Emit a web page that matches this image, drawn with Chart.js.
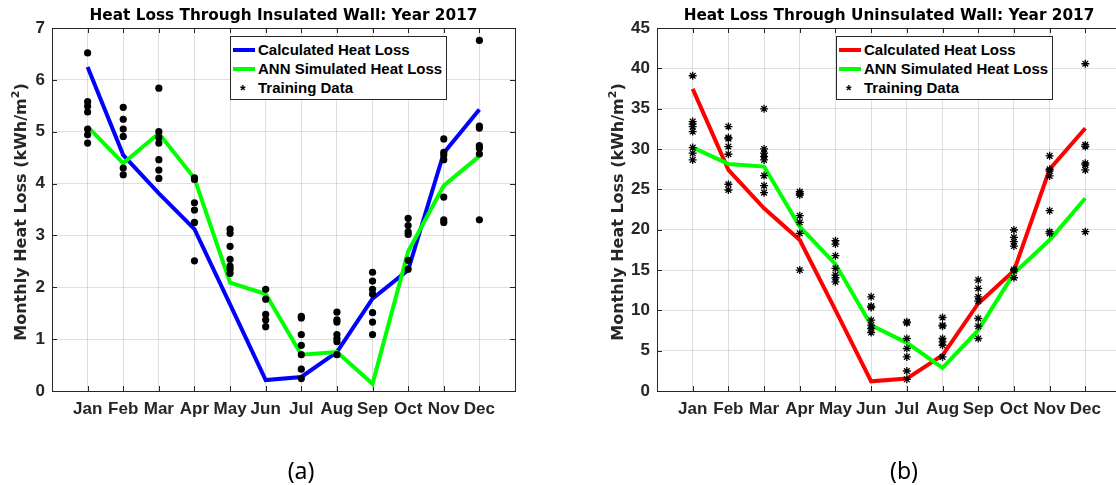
<!DOCTYPE html>
<html>
<head>
<meta charset="utf-8">
<script src="https://cdn.jsdelivr.net/npm/chart.js@4"></script>
<style>
  body { margin: 0; width: 1116px; height: 485px; overflow: hidden; background: #fff; position: relative; font-family: "Liberation Sans", Arial, sans-serif; }
  canvas { position: absolute; top: 0; }
  .title { position: absolute; top: 5px; line-height: 20px; text-align: center; font-family: "DejaVu Sans", sans-serif; font-weight: bold; font-size: 15.3px; color: #000; white-space: nowrap; }
  .ylabel { position: absolute; top: 202px; width: 320px; height: 20px; line-height: 20px; text-align: center; font-family: "DejaVu Sans", sans-serif; font-weight: bold; font-size: 16px; color: #262626; white-space: nowrap; transform: rotate(-90deg); }
  .ylabel sup { font-size: 11px; line-height: 0; position: relative; top: -1px; }
  .legend { position: absolute; width: 215px; height: 62px; border: 1px solid #262626; background: #fff; }
  .row { position: absolute; left: 0; height: 18px; line-height: 18px; font-weight: bold; font-size: 15px; color: #000; white-space: nowrap; }
  .swatch { position: absolute; left: 2px; top: 7px; width: 22px; height: 4px; }
  .star { position: absolute; left: 9px; top: 2px; font-size: 14px; }
  .row .txt { position: absolute; left: 27px; }
  .sub { position: absolute; top: 454px; font-family: "Noto Sans", "Open Sans", sans-serif; font-size: 23px; color: #000; text-align: center; width: 60px; }
</style>
</head>
<body>
<canvas id="insulated" width="545" height="485" style="left:0px"></canvas>
<canvas id="uninsulated" width="540" height="485" style="left:600px"></canvas>

<div class="title" style="left:52px; width:463px">Heat Loss Through Insulated Wall: Year 2017</div>
<div class="title" style="left:657px; width:464px">Heat Loss Through Uninsulated Wall: Year 2017</div>

<div class="ylabel" style="left:-139px">Monthly Heat Loss (kWh/m<sup>2</sup>)</div>
<div class="ylabel" style="left:458px">Monthly Heat Loss (kWh/m<sup>2</sup>)</div>

<div class="legend" style="left:230px; top:36px">
  <div class="row" style="top:4px"><span class="swatch" style="background:#0000ff"></span><span class="txt">Calculated Heat Loss</span></div>
  <div class="row" style="top:23px"><span class="swatch" style="background:#00ff00"></span><span class="txt">ANN Simulated Heat Loss</span></div>
  <div class="row" style="top:42px"><span class="star">*</span><span class="txt">Training Data</span></div>
</div>
<div class="legend" style="left:836px; top:36px">
  <div class="row" style="top:4px"><span class="swatch" style="background:#ff0000"></span><span class="txt">Calculated Heat Loss</span></div>
  <div class="row" style="top:23px"><span class="swatch" style="background:#00ff00"></span><span class="txt">ANN Simulated Heat Loss</span></div>
  <div class="row" style="top:42px"><span class="star">*</span><span class="txt">Training Data</span></div>
</div>

<div class="sub" style="left:271px">(a)</div>
<div class="sub" style="left:874px">(b)</div>

<script>
// months on the x axis
const months = ['Jan', 'Feb', 'Mar', 'Apr', 'May', 'Jun', 'Jul', 'Aug', 'Sep', 'Oct', 'Nov', 'Dec'];

// insulated wall (kWh/m2)
const insCalc = [6.25, 4.55, 3.81, 3.12, 1.67, 0.21, 0.27, 0.75, 1.78, 2.33, 4.59, 5.43];
const insAnn = [5.10, 4.39, 4.97, 4.10, 2.09, 1.87, 0.70, 0.75, 0.14, 2.69, 3.96, 4.53];
const insTrain = [
    [6.52, 5.58, 5.49, 5.38, 5.05, 4.94, 4.78],
    [5.47, 5.24, 5.05, 4.91, 4.30, 4.17],
    [5.84, 5.00, 4.89, 4.78, 4.46, 4.26, 4.10],
    [4.11, 4.08, 3.63, 3.49, 3.25, 2.51],
    [3.12, 3.04, 2.79, 2.54, 2.41, 2.35, 2.27],
    [1.96, 1.77, 1.48, 1.37, 1.24],
    [1.44, 1.41, 1.09, 0.88, 0.70, 0.42, 0.24],
    [1.52, 1.37, 1.33, 1.09, 1.01, 0.95, 0.70],
    [2.29, 2.12, 1.96, 1.87, 1.51, 1.33, 1.09],
    [3.33, 3.19, 3.07, 3.02, 2.52, 2.35],
    [4.86, 4.60, 4.55, 4.46, 3.74, 3.30, 3.25],
    [6.76, 5.11, 5.07, 4.73, 4.68, 4.57, 3.30]
];

// uninsulated wall (kWh/m2)
const unCalc = [37.46, 27.41, 22.65, 18.71, 10.02, 1.20, 1.54, 4.43, 10.85, 14.90, 27.49, 32.58];
const unAnn = [30.18, 28.15, 27.82, 20.37, 15.73, 8.16, 5.97, 2.86, 7.54, 14.58, 18.71, 23.89];
const unTrain = [
    [39.08, 33.40, 33.08, 32.78, 32.16, 30.18, 29.48, 28.65],
    [32.78, 31.42, 31.26, 30.30, 29.35, 25.63, 24.92],
    [34.98, 30.01, 29.48, 29.06, 28.65, 26.70, 25.46, 24.59],
    [24.71, 24.50, 24.30, 21.73, 20.91, 19.54, 14.99],
    [18.63, 18.22, 16.77, 15.20, 14.37, 14.04, 13.54],
    [11.68, 10.52, 10.36, 8.78, 8.16, 7.75, 7.25],
    [8.57, 8.44, 6.51, 5.27, 4.23, 2.48, 1.45],
    [9.11, 8.16, 8.03, 6.51, 6.09, 5.67, 4.23],
    [13.75, 12.71, 11.68, 11.14, 8.99, 8.03, 6.51],
    [19.96, 19.05, 18.51, 17.97, 15.07, 14.90, 14.04],
    [29.15, 27.49, 27.28, 26.66, 22.35, 19.75, 19.54],
    [40.57, 30.51, 30.30, 28.24, 28.03, 27.41, 19.75]
];

const insTicks = [0, 1, 2, 3, 4, 5, 6, 7];
const unTicks = [0, 5, 10, 15, 20, 25, 30, 35, 40, 45];

const axisColor = '#262626';
const gridColor = 'rgba(38,38,38,0.15)';
const tickFont = { family: 'Liberation Sans', size: 17, weight: 'bold' };

// draws the box round the plot and the inward ticks, like matlab
const framePlugin = {
    id: 'frame',
    beforeDatasetsDraw(chart) {
        const ctx = chart.ctx;
        const a = chart.chartArea;
        const x = chart.scales.x;
        const y = chart.scales.y;
        ctx.save();
        ctx.strokeStyle = axisColor;
        ctx.lineWidth = 1;
        ctx.strokeRect(Math.round(a.left) + 0.5, Math.round(a.top) + 0.5, Math.round(a.right - a.left), Math.round(a.bottom - a.top));
        ctx.beginPath();
        x.ticks.forEach(t => {
            const px = Math.round(x.getPixelForValue(t.value)) + 0.5;
            ctx.moveTo(px, a.bottom); ctx.lineTo(px, a.bottom - 5);
            ctx.moveTo(px, a.top); ctx.lineTo(px, a.top + 5);
        });
        y.ticks.forEach(t => {
            const py = Math.round(y.getPixelForValue(t.value)) + 0.5;
            ctx.moveTo(a.left, py); ctx.lineTo(a.left + 5, py);
            ctx.moveTo(a.right, py); ctx.lineTo(a.right - 5, py);
        });
        ctx.stroke();
        ctx.restore();
    }
};

function toPoints(values) {
    return values.map((v, i) => ({ x: i + 1, y: v }));
}

function trainPoints(groups) {
    const pts = [];
    groups.forEach((g, i) => g.forEach(v => pts.push({ x: i + 1, y: v })));
    return pts;
}

function makeChart(id, cfg) {
    const ctx = document.getElementById(id).getContext('2d');
    return new Chart(ctx, {
        type: 'scatter',
        data: {
            datasets: [
                {
                    label: 'Training Data',
                    data: trainPoints(cfg.train),
                    pointStyle: cfg.marker,
                    pointRadius: cfg.marker === 'star' ? 4 : 3.6,
                    backgroundColor: '#000',
                    borderColor: '#000',
                    borderWidth: cfg.marker === 'star' ? 1.3 : 0,
                    order: 0
                },
                {
                    label: 'ANN Simulated Heat Loss',
                    data: toPoints(cfg.ann),
                    showLine: true,
                    borderColor: '#00ff00',
                    borderWidth: 4,
                    pointRadius: 0,
                    tension: 0,
                    order: 1
                },
                {
                    label: 'Calculated Heat Loss',
                    data: toPoints(cfg.calc),
                    showLine: true,
                    borderColor: cfg.calcColor,
                    borderWidth: 4,
                    pointRadius: 0,
                    tension: 0,
                    order: 2
                }
            ]
        },
        options: {
            responsive: false,
            animation: false,
            layout: { padding: { top: 28, right: cfg.padRight, bottom: 0, left: 0 } },
            plugins: {
                legend: { display: false },
                title: { display: false },
                tooltip: { enabled: false }
            },
            scales: {
                x: {
                    type: 'linear',
                    min: 0,
                    max: 13,
                    afterBuildTicks: scale => { scale.ticks = months.map((m, i) => ({ value: i + 1 })); },
                    afterFit: scale => { scale.height = 94; },
                    ticks: {
                        autoSkip: false,
                        maxRotation: 0,
                        padding: 8,
                        color: axisColor,
                        font: tickFont,
                        callback: v => months[v - 1]
                    },
                    grid: { color: gridColor, drawTicks: false },
                    border: { display: false }
                },
                y: {
                    min: 0,
                    max: cfg.yTicks[cfg.yTicks.length - 1],
                    afterBuildTicks: scale => { scale.ticks = cfg.yTicks.map(v => ({ value: v })); },
                    afterFit: scale => { scale.width = cfg.yWidth; },
                    ticks: { padding: 7, color: axisColor, font: tickFont },
                    grid: { color: gridColor, drawTicks: false },
                    border: { display: false }
                }
            }
        },
        plugins: [framePlugin]
    });
}

makeChart('insulated', {
    calc: insCalc, ann: insAnn, train: insTrain, calcColor: '#0000ff',
    marker: 'circle', yTicks: insTicks, yWidth: 52, padRight: 30
});
makeChart('uninsulated', {
    calc: unCalc, ann: unAnn, train: unTrain, calcColor: '#ff0000',
    marker: 'star', yTicks: unTicks, yWidth: 57, padRight: 19
});
</script>
</body>
</html>
